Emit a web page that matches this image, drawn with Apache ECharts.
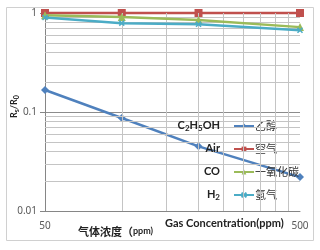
<!DOCTYPE html>
<html><head><meta charset="utf-8">
<script src="https://cdn.jsdelivr.net/npm/echarts@6/dist/echarts.min.js"></script>
<style>html,body{margin:0;padding:0;background:#fff}#c{width:320px;height:250px}</style>
</head><body><div id="c"></div>
<script>
// ---- data ----
const concentrations = [50, 100, 200, 500];
const seriesNames = ['乙醇', '空气', '一氧化碳', '氢气'];
const ethanol = [0.167, 0.087, 0.045, 0.022];
const air = [1.0, 1.0, 1.0, 1.0];
const co = [0.95, 0.91, 0.85, 0.72];
const h2 = [0.90, 0.79, 0.77, 0.67];
const formulaLabels = ['{b|C}{s|2}{b|H}{s|5}{b|OH}', '{b|Air}', '{b|CO}', '{b|H}{s|2}'];
const xTickLabels = [50, 500];
const yTickLabels = [0.01, 0.1, 1];
const xMinorGrid = [100, 150, 200, 250, 300, 350, 400, 450];
const yMinorGrid = [0.02, 0.03, 0.04, 0.05, 0.06, 0.07, 0.08, 0.09, 0.2, 0.3, 0.4, 0.5, 0.6, 0.7, 0.8, 0.9];

const colors = ['#4F81BD', '#C0504D', '#9BBB59', '#4BACC6'];
const symbols = ['diamond', 'rect', 'triangle', 'path://M0,0L10,10M10,0L0,10'];
const symbolSizes = [8, 8, 8, 5];
const values = [ethanol, air, co, h2];

const chart = echarts.init(document.getElementById('c'));
const pair = arr => concentrations.map((x, i) => [x, arr[i]]);

const gridLineSeries = {
  type: 'line', name: '_grid', data: [], z: 1, silent: true,
  markLine: {
    silent: true, symbol: 'none', animation: false,
    label: { show: false },
    lineStyle: { color: '#c4c4c4', width: 1, type: 'solid' },
    data: xMinorGrid.map(v => ({ xAxis: v })).concat(yMinorGrid.map(v => ({ yAxis: v })))
  }
};

const lineSeries = seriesNames.map((name, k) => ({
  type: 'line', name, data: pair(values[k]), z: 3 + k, clip: false,
  symbol: symbols[k], symbolSize: symbolSizes[k], showAllSymbol: true,
  lineStyle: { color: colors[k], width: 2.5 },
  itemStyle: { color: colors[k], borderColor: colors[k], borderWidth: k === 3 ? 1.5 : 0 },
  animation: false
}));

const labelFont = 'Lato, Noto Sans, sans-serif';
const formulaRows = [125, 148, 171, 194];

chart.setOption({
  animation: false,
  backgroundColor: '#fff',
  grid: { left: 45, right: 20, top: 13, bottom: 39 },
  xAxis: {
    type: 'log', logBase: 10, min: 50, max: 500,
    axisLine: { show: true, lineStyle: { color: '#868686', width: 1 } },
    axisTick: { show: false },
    splitLine: { show: false },
    axisLabel: {
      margin: 10, color: '#595959', fontSize: 10, fontFamily: 'Noto Sans, sans-serif',
      showMinLabel: true, showMaxLabel: true,
      formatter: v => { const r = Math.round(v); return xTickLabels.includes(r) ? String(r) : ''; }
    }
  },
  yAxis: {
    type: 'log', logBase: 10, min: 0.01, max: 1,
    axisLine: { show: true, lineStyle: { color: '#868686', width: 1 } },
    axisTick: { show: true, length: 5, lineStyle: { color: '#868686' } },
    splitLine: { show: true, lineStyle: { color: '#8c8c8c', width: 1 } },
    axisLabel: {
      margin: 8, color: '#595959', fontSize: 10, fontFamily: 'Noto Sans, sans-serif',
      formatter: v => { const t = yTickLabels.find(t => Math.abs(Math.log10(t) - Math.log10(v)) < 1e-6); return t === undefined ? '' : String(t); }
    }
  },
  legend: {
    orient: 'vertical', left: 228, top: 114,
    itemWidth: 20, itemHeight: 6, itemGap: 9,
    data: seriesNames,
    textStyle: { fontSize: 11, color: '#333', fontFamily: 'Noto Sans CJK SC, sans-serif', lineHeight: 14, padding: [0, 0, 0, -4] }
  },
  series: [gridLineSeries].concat(lineSeries),
  graphic: [
    { type: 'rect', silent: true, z: 0, shape: { x: 6.5, y: 7.5, width: 307, height: 233 }, style: { fill: 'none', stroke: '#d0d0d0', lineWidth: 1 } },
    { type: 'text', left: 78, top: 226, silent: true, style: {
      text: '{c|气体浓度（}{p|ppm)}', rich: {
        c: { fontSize: 11, fontWeight: 'bold', fontFamily: 'Noto Sans CJK SC', fill: '#222' },
        p: { fontSize: 9, fontWeight: 'bold', fontFamily: labelFont, fill: '#222' } } } },
    { type: 'text', left: 165, top: 218, silent: true, style: {
      text: 'Gas Concentration(ppm)', fontSize: 11, fontWeight: 'bold', fontFamily: labelFont, fill: '#222' } },
    { type: 'text', x: 9, y: 118, rotation: Math.PI / 2, silent: true, style: {
      text: '{b|R}{s|s}{b|/R}{s|0}', rich: {
        b: { fontSize: 9, fontWeight: 'bold', fontFamily: labelFont, fill: '#222' },
        s: { fontSize: 7, fontWeight: 'bold', fontFamily: labelFont, fill: '#222', padding: [4, 0, 0, 0] } } } }
  ].concat(formulaLabels.map((t, i) => ({
    type: 'text', silent: true, x: 220, y: formulaRows[i], z: 10,
    style: {
      text: t, align: 'right', verticalAlign: 'middle',
      rich: {
        b: { fontSize: 11, fontWeight: 'bold', fontFamily: labelFont, fill: '#222' },
        s: { fontSize: 8, fontWeight: 'bold', fontFamily: labelFont, fill: '#222', padding: [6, 0, 0, 0] }
      }
    }
  })))
});
</script>
</body></html>
